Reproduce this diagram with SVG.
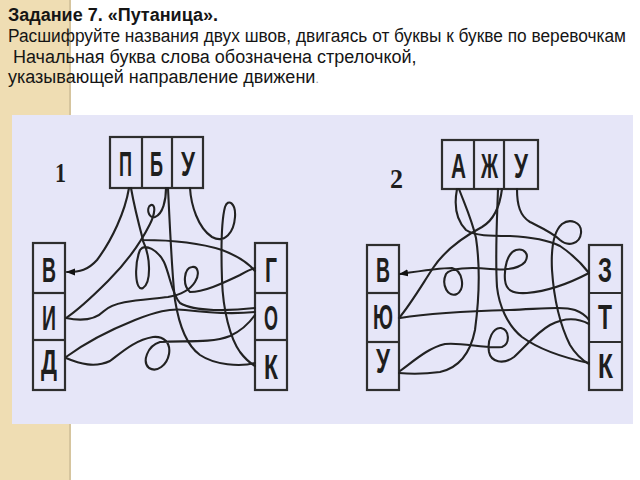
<svg xmlns="http://www.w3.org/2000/svg" width="640" height="480" viewBox="0 0 640 480">
<defs>
<style>
.t{font-family:"Liberation Sans",Arial,sans-serif;font-size:18px;fill:#151515}
.tb{font-weight:bold}
.box{fill:none;stroke:#2e2e2e;stroke-width:2.2}
.lt{font-family:"Liberation Sans",Arial,sans-serif;font-weight:bold;font-size:35px;fill:#1e1e1e}
.num{font-family:"Liberation Serif","Times New Roman",serif;font-weight:bold;font-size:27px;fill:#1e1e1e}
.rope{fill:none;stroke:#222222;stroke-width:2.1;stroke-linecap:round;stroke-linejoin:round}
</style>
<marker id="arr" markerWidth="9" markerHeight="8" refX="8" refY="4" orient="auto" markerUnits="userSpaceOnUse">
<path d="M0,0.5 L9,4 L0,7.5 Z" fill="#111111"/>
</marker>
</defs>
<rect x="0" y="0" width="640" height="480" fill="#ffffff"/>
<rect x="0" y="0" width="70" height="480" fill="#EFDDB3"/>
<rect x="69" y="0" width="2" height="480" fill="#D6C59E"/>
<rect x="12" y="115" width="621" height="309" fill="#E6E6F8"/>

<g id="heading">
<text class="t tb" x="8" y="21">Задание 7. «Путаница».</text>
<text class="t" x="8" y="42" font-size="17.4" textLength="618" lengthAdjust="spacingAndGlyphs">Расшифруйте названия двух швов, двигаясь от буквы к букве по веревочкам</text>
<text class="t" x="13" y="63">Начальная буква слова обозначена стрелочкой,</text>
<text class="t" x="8" y="83">указывающей направление движени<tspan fill="#9a9a9a" font-size="12">.</tspan></text>
</g>

<g id="diagram1-label"><text class="num" x="55" y="182" textLength="11" lengthAdjust="spacingAndGlyphs">1</text></g>
<g id="d1-top">
<rect class="box" x="110" y="137" width="93" height="51"/>
<line class="box" x1="142" y1="137" x2="142" y2="188"/>
<line class="box" x1="172" y1="137" x2="172" y2="188"/>
<text class="lt" x="119" y="176" textLength="13" lengthAdjust="spacingAndGlyphs">П</text>
<text class="lt" x="150" y="176" textLength="13" lengthAdjust="spacingAndGlyphs">Б</text>
<text class="lt" x="181" y="176" textLength="14" lengthAdjust="spacingAndGlyphs">У</text>
</g>
<g id="d1-left">
<rect class="box" x="33" y="243" width="32" height="147"/>
<line class="box" x1="33" y1="293" x2="65" y2="293"/>
<line class="box" x1="33" y1="340" x2="65" y2="340"/>
<text class="lt" x="42" y="282" textLength="14" lengthAdjust="spacingAndGlyphs">В</text>
<text class="lt" x="42" y="330" textLength="14" lengthAdjust="spacingAndGlyphs">И</text>
<text class="lt" x="41" y="374" textLength="16" lengthAdjust="spacingAndGlyphs">Д</text>
</g>
<g id="d1-right">
<rect class="box" x="255" y="243" width="32" height="147"/>
<line class="box" x1="255" y1="293" x2="287" y2="293"/>
<line class="box" x1="255" y1="340" x2="287" y2="340"/>
<text class="lt" x="265" y="282" textLength="12" lengthAdjust="spacingAndGlyphs">Г</text>
<text class="lt" x="264" y="330" textLength="14" lengthAdjust="spacingAndGlyphs">О</text>
<text class="lt" x="264" y="379" textLength="14" lengthAdjust="spacingAndGlyphs">К</text>
</g>

<g id="diagram2-label"><text class="num" x="390" y="188" textLength="13" lengthAdjust="spacingAndGlyphs">2</text></g>
<g id="d2-top">
<rect class="box" x="442" y="140" width="96" height="49"/>
<line class="box" x1="474" y1="140" x2="474" y2="189"/>
<line class="box" x1="504" y1="140" x2="504" y2="189"/>
<text class="lt" x="451" y="178" textLength="15" lengthAdjust="spacingAndGlyphs">А</text>
<text class="lt" x="481" y="178" textLength="17" lengthAdjust="spacingAndGlyphs">Ж</text>
<text class="lt" x="514" y="178" textLength="14" lengthAdjust="spacingAndGlyphs">У</text>
</g>
<g id="d2-left">
<rect class="box" x="367" y="245" width="32" height="145"/>
<line class="box" x1="367" y1="293" x2="399" y2="293"/>
<line class="box" x1="367" y1="342" x2="399" y2="342"/>
<text class="lt" x="376" y="282" textLength="14" lengthAdjust="spacingAndGlyphs">В</text>
<text class="lt" x="373" y="329" textLength="20" lengthAdjust="spacingAndGlyphs">Ю</text>
<text class="lt" x="376" y="373" textLength="14" lengthAdjust="spacingAndGlyphs">У</text>
</g>
<g id="d2-right">
<rect class="box" x="589" y="245" width="33" height="145"/>
<line class="box" x1="589" y1="293" x2="622" y2="293"/>
<line class="box" x1="589" y1="342" x2="622" y2="342"/>
<text class="lt" x="598" y="282" textLength="14" lengthAdjust="spacingAndGlyphs">З</text>
<text class="lt" x="598" y="329" textLength="14" lengthAdjust="spacingAndGlyphs">Т</text>
<text class="lt" x="598" y="378" textLength="15" lengthAdjust="spacingAndGlyphs">К</text>
</g>

<g id="connectors">
<!-- diagram 1 -->
<path class="rope" marker-end="url(#arr)" d="M129,188 C125,212 112,240 97,260 C88,270 80,272 67,272"/>
<path class="rope" d="M131,188 C134,205 139,225 143,240 C170,240 200,243 222,250 C238,256 249,264 255,271"/>
<path class="rope" d="M166,188 C166,200 163,214 155,217 C148,219 146,207 151,205 C156,204 155,214 150,224 C141,242 125,264 108,281 C93,296 78,310 66,318"/>
<path class="rope" d="M168,188 C170,230 172,275 175,300 C179,325 186,345 200,355 C215,365 240,367 255,363"/>
<path class="rope" d="M190,188 C191,205 198,228 212,237 C225,244 234,232 235,217 C236,203 228,198 225,207 C221,222 221,250 222,280 C223,310 230,338 240,352 C246,360 250,363 255,366"/>
<path class="rope" d="M143,241 C150,255 152,282 143,288 C135,292 134,265 140,250 C145,243 158,250 164,262 C170,275 172,295 180,303 C195,312 230,311 255,308"/>
<path class="rope" d="M66,318 C80,321 95,320 104,311 C116,300 145,300 168,297 C180,295 190,290 195,282 C200,274 198,266 192,267 C184,268 182,285 190,292 C205,292 225,282 240,275 C247,271 251,269 255,268"/>
<path class="rope" d="M66,357 C85,343 110,330 135,320 C155,312 170,308 185,310 C210,313 235,314 255,312"/>
<path class="rope" d="M66,358 C80,364 95,368 110,361 C122,352 135,340 153,337 C163,336 171,342 169,354 C167,365 157,373 149,368 C142,362 147,346 160,342 C180,340 210,344 230,336 C243,330 250,322 255,315"/>
<!-- diagram 2 -->
<path class="rope" marker-end="url(#arr)" d="M589,273 C570,283 550,291 527,293 C512,294 506,290 505,280 C504,268 507,253 516,250 C524,248 530,254 525,262 C518,270 502,270 490,269 C470,267 450,268 446,274 C441,285 448,298 457,294 C466,288 462,270 452,268 C440,268 420,271 400,274"/>
<path class="rope" d="M502,189 C500,205 494,220 482,227 C465,236 445,250 433,268 C420,288 410,305 399,318"/>
<path class="rope" d="M457,189 C454,205 456,220 466,230 C475,236 490,236 510,236 C530,237 548,240 560,246 C572,254 582,264 589,273"/>
<path class="rope" d="M459,189 C465,205 472,220 476,238 C480,265 479,300 475,330 C470,355 458,368 440,372 C425,374 410,374 399,373"/>
<path class="rope" d="M498,189 C497,220 495,255 497,287 C499,305 507,325 522,337 C540,350 565,358 589,363"/>
<path class="rope" d="M517,189 C517,205 520,216 530,222 C542,228 553,233 560,240 C568,247 580,244 581,233 C582,222 570,218 562,224 C553,232 551,250 552,270 C554,300 560,325 570,345 C576,355 582,360 589,364"/>
<path class="rope" d="M400,318 C430,313 470,311 510,310 C540,309 563,306 575,310 C583,313 587,317 589,320"/>
<path class="rope" d="M400,371 C415,360 428,348 445,344 C462,342 485,349 502,347 C510,344 510,330 501,328 C493,327 487,340 489,352 C491,362 503,365 514,357 C525,347 536,333 550,325 C565,317 578,318 589,324"/>
</g>
</svg>
